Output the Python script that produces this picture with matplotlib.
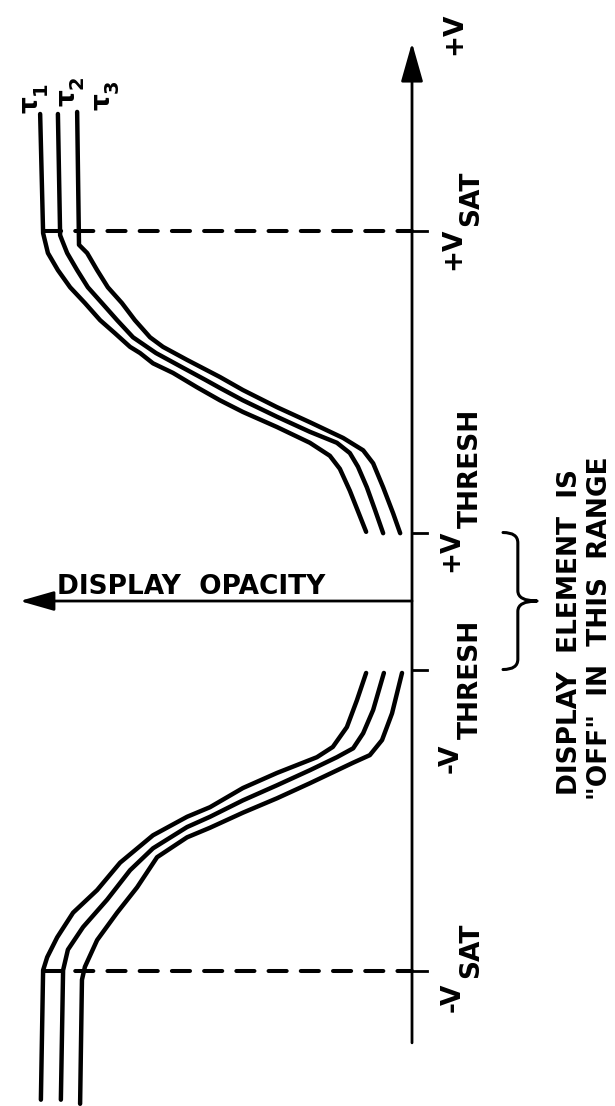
import matplotlib.pyplot as plt
import numpy as np
from matplotlib.path import Path
from matplotlib.patches import PathPatch

# threshold / saturation voltages (V_THRESH = 1 unit)
V_SAT = 5.4
V_THRESH = 1.0

# opacity vs voltage for the three response times
# positive branch runs from the top down to +V_THRESH
TAU1_POS_V = [7.11, 5.37, 5.08, 4.83, 4.58, 4.35, 4.10, 3.91, 3.71, 3.62, 3.47,
              3.33, 3.12, 2.93, 2.76, 2.54, 2.31, 2.12, 1.93, 1.61, 1.31, 1.01]
TAU1_POS_OP = [1.005, 0.997, 0.984, 0.957, 0.924, 0.884, 0.843, 0.803, 0.762, 0.735, 0.700,
               0.646, 0.581, 0.519, 0.457, 0.365, 0.276, 0.222, 0.195, 0.168, 0.146, 0.124]
TAU2_POS_V = [7.11, 5.34, 5.27, 5.08, 4.83, 4.58, 4.35, 4.10, 3.85, 3.62, 3.42,
              3.23, 3.11, 2.93, 2.69, 2.47, 2.31, 2.16, 1.96, 1.66, 1.33, 0.99]
TAU2_POS_OP = [0.957, 0.951, 0.946, 0.932, 0.905, 0.876, 0.838, 0.797, 0.754, 0.692, 0.624,
               0.559, 0.519, 0.457, 0.365, 0.276, 0.203, 0.168, 0.146, 0.122, 0.100, 0.078]
TAU3_POS_V = [7.14, 5.20, 5.08, 4.83, 4.58, 4.35, 4.10, 3.85, 3.71, 3.52,
              3.27, 3.08, 2.83, 2.61, 2.38, 2.20, 2.01, 1.66, 1.28, 0.99]
TAU3_POS_OP = [0.905, 0.900, 0.878, 0.851, 0.822, 0.784, 0.749, 0.708, 0.673, 0.608,
               0.519, 0.457, 0.365, 0.276, 0.186, 0.132, 0.105, 0.078, 0.051, 0.032]

# negative branch runs from -V_THRESH down to the bottom
TAU1_NEG_V = [-1.05, -1.45, -1.84, -2.13, -2.28, -2.51, -2.73, -3.01, -3.15,
              -3.42, -3.82, -4.22, -4.55, -4.91, -5.20, -5.39, -7.28]
TAU1_NEG_OP = [0.124, 0.149, 0.176, 0.214, 0.257, 0.365, 0.457, 0.546, 0.608,
               0.700, 0.789, 0.851, 0.916, 0.959, 0.986, 0.997, 1.003]
TAU2_NEG_V = [-1.05, -1.59, -1.93, -2.15, -2.28, -2.47, -2.69, -2.91, -3.15,
              -3.30, -3.61, -3.93, -4.36, -4.76, -5.09, -5.39, -7.28]
TAU2_NEG_OP = [0.076, 0.105, 0.132, 0.159, 0.203, 0.276, 0.365, 0.457, 0.546,
               0.608, 0.700, 0.762, 0.824, 0.889, 0.930, 0.943, 0.949]
TAU3_NEG_V = [-1.05, -1.64, -2.03, -2.25, -2.36, -2.66, -2.88, -3.09, -3.31,
              -3.45, -3.74, -4.18, -4.55, -4.95, -5.34, -5.53, -7.34]
TAU3_NEG_OP = [0.027, 0.054, 0.081, 0.114, 0.159, 0.276, 0.365, 0.457, 0.546,
               0.608, 0.689, 0.743, 0.797, 0.851, 0.884, 0.892, 0.897]

TAU_NAMES = ['1', '2', '3']

# axis extents (voltage axis is drawn vertically, opacity grows to the left)
V_AXIS_TOP = 8.15
V_AXIS_BOTTOM = -6.45
OPACITY_AXIS_END = 1.06

INK = 'black'


def rtext(ax, x, y, s, size=19):
  # text reads bottom-to-top, anchored at the start of its baseline
  ax.text(x, y, s, rotation=90, rotation_mode='anchor', ha='left', va='baseline',
          fontsize=size, fontweight='bold', color=INK)


def brace(ax, x_in, x_mid, x_out, v_lo, v_hi, r=0.15):
  v_c = (v_lo + v_hi) / 2
  verts = [(x_in, v_hi), (x_mid, v_hi), (x_mid, v_hi - r),
           (x_mid, v_c + r), (x_mid, v_c), (x_out, v_c),
           (x_mid, v_c), (x_mid, v_c - r),
           (x_mid, v_lo + r), (x_mid, v_lo), (x_in, v_lo)]
  codes = [Path.MOVETO, Path.CURVE3, Path.CURVE3,
           Path.LINETO, Path.CURVE3, Path.CURVE3,
           Path.CURVE3, Path.CURVE3,
           Path.LINETO, Path.CURVE3, Path.CURVE3]
  ax.add_patch(PathPatch(Path(verts, codes), fill=False, lw=2.2, edgecolor=INK,
                         capstyle='round', joinstyle='round'))


def figure():
  fig = plt.figure(figsize=(6.15, 11.06), dpi=100)
  ax = fig.add_axes([0, 0, 1, 1])
  ax.set_xlim(1.1135, -0.5486)
  ax.set_ylim(-7.372, 8.774)
  ax.axis('off')

  curve_kw = dict(color=INK, lw=3.2, solid_capstyle='round', solid_joinstyle='round')
  branches = [(TAU1_POS_V, TAU1_POS_OP), (TAU2_POS_V, TAU2_POS_OP), (TAU3_POS_V, TAU3_POS_OP),
              (TAU1_NEG_V, TAU1_NEG_OP), (TAU2_NEG_V, TAU2_NEG_OP), (TAU3_NEG_V, TAU3_NEG_OP)]
  for v, op in branches:
    ax.plot(op, v, **curve_kw)

  # axes with arrow heads
  ax.annotate('', xy=(0, V_AXIS_TOP), xytext=(0, V_AXIS_BOTTOM),
              arrowprops=dict(arrowstyle='-|>,head_length=1.2,head_width=0.34',
                              mutation_scale=20, lw=2, color=INK, shrinkA=0, shrinkB=0))
  ax.annotate('', xy=(OPACITY_AXIS_END, 0), xytext=(0, 0),
              arrowprops=dict(arrowstyle='-|>,head_length=1.05,head_width=0.3',
                              mutation_scale=20, lw=2, color=INK, shrinkA=0, shrinkB=0))

  # ticks and dashed saturation guides
  for v in [V_SAT, V_THRESH, -V_THRESH, -V_SAT]:
    ax.plot([0, -0.04], [v, v], color=INK, lw=2)
  sat_op = np.interp(V_SAT, TAU1_POS_V[::-1], TAU1_POS_OP[::-1])
  for v in [V_SAT, -V_SAT]:
    ax.plot([sat_op, 0], [v, v], color=INK, lw=2.9, dash_capstyle='round',
            linestyle=(0, (4.5, 3.5)))

  # voltage labels (subscripts sit right after the main letters)
  rtext(ax, -0.132, 7.97, '+V')
  rtext(ax, -0.130, 4.83, '+V')
  rtext(ax, -0.178, 5.47, 'SAT')
  rtext(ax, -0.124, 0.42, '+V')
  rtext(ax, -0.178, 1.06, 'THRESH')
  rtext(ax, -0.124, -2.51, '-V')
  rtext(ax, -0.178, -2.01, 'THRESH')
  rtext(ax, -0.130, -6.0, '-V')
  rtext(ax, -0.178, -5.50, 'SAT')

  ax.text(0.959, 0.10, 'DISPLAY  OPACITY', fontsize=19, fontweight='bold', color=INK,
          ha='left', va='baseline')

  brace(ax, -0.246, -0.286, -0.338, -V_THRESH, V_THRESH)
  rtext(ax, -0.446, -2.83, 'DISPLAY  ELEMENT  IS')
  rtext(ax, -0.527, -2.90, '"OFF"  IN  THIS  RANGE')

  # curve names at the top: tau with a lowered index
  tau_x = [1.012, 0.912, 0.818]
  tau_v = [7.13, 7.23, 7.17]
  for name, x, v in zip(TAU_NAMES, tau_x, tau_v):
    rtext(ax, x, v, '\u03c4', size=19)
    rtext(ax, x - 0.022, v + 0.25, name, size=14)

  fig.savefig('out.png', dpi=100)


if __name__ == "__main__":
  figure()
